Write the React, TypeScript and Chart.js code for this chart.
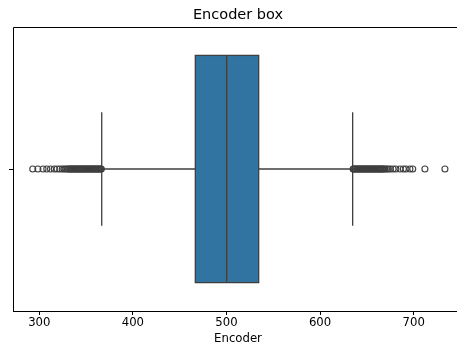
import React, { useEffect, useRef } from "react";
import { Chart, registerables } from "chart.js";

Chart.register(...registerables);

const title = "Encoder box";
const xAxisLabel = "Encoder";
const xTicks = [300, 400, 500, 600, 700];
const xRange = [271.9, 752.7];

const whiskerLow = 366.7;
const q1 = 466.7;
const median = 500.2;
const q3 = 534.4;
const whiskerHigh = 634.8;

const lowOutliers = [
  293, 298.5, 304, 308, 312, 316, 319, 322, 324.5, 326.5, 328.5, 330, 331.5, 332.5, 333.5,
  334.5, 335.5, 336.5, 337.5, 338.5, 339.5, 340.5, 341.5, 342.5, 343.5, 344.5, 345.5,
  346.5, 347.5, 348.5, 349.5, 350.5, 351.5, 352.5, 353.5, 354.5, 355.5, 356.5, 357.5,
  358.5, 359.5, 360.5, 361.5, 362.5, 363.5, 364.5, 365.5, 366.3,
];
const highOutliers = [
  635.3, 636, 637, 638, 639, 640, 641, 642, 643, 644, 645, 646, 647, 648, 649, 650, 651,
  652, 653, 654, 655, 656, 657, 658, 659, 660, 661, 662, 663, 664, 665, 666, 667, 668,
  669.5, 671, 673, 675, 678, 681, 685.4, 689, 691.8, 696, 699, 712, 733.4,
];

const BOX_HALF = 0.4;
const CAP_HALF = 0.2;
const LINE = "#3f3f3f";
const FILL = "#3274a1";
const FONT = "DejaVu Sans";

const boxPlugin = {
  id: "boxDraw",
  beforeDatasetsDraw(chart: any) {
    const { ctx, scales } = chart;
    const xs = scales.x;
    const ys = scales.y;
    const x1 = xs.getPixelForValue(q1);
    const x2 = xs.getPixelForValue(q3);
    const xm = xs.getPixelForValue(median);
    const yt = ys.getPixelForValue(BOX_HALF);
    const yb = ys.getPixelForValue(-BOX_HALF);
    const yc = ys.getPixelForValue(0);
    const yct = ys.getPixelForValue(CAP_HALF);
    const ycb = ys.getPixelForValue(-CAP_HALF);
    const wl = xs.getPixelForValue(whiskerLow);
    const wh = xs.getPixelForValue(whiskerHigh);
    ctx.save();
    ctx.strokeStyle = LINE;
    ctx.lineWidth = 1.3;
    ctx.beginPath();
    ctx.moveTo(wl, yc);
    ctx.lineTo(x1, yc);
    ctx.moveTo(x2, yc);
    ctx.lineTo(wh, yc);
    ctx.moveTo(wl, yct);
    ctx.lineTo(wl, ycb);
    ctx.moveTo(wh, yct);
    ctx.lineTo(wh, ycb);
    ctx.stroke();
    ctx.fillStyle = FILL;
    ctx.fillRect(x1, yt, x2 - x1, yb - yt);
    ctx.strokeRect(x1, yt, x2 - x1, yb - yt);
    ctx.beginPath();
    ctx.moveTo(xm, yt);
    ctx.lineTo(xm, yb);
    ctx.stroke();
    ctx.restore();
  },
  afterDraw(chart: any) {
    const { ctx, chartArea } = chart;
    ctx.save();
    ctx.strokeStyle = "#000";
    ctx.lineWidth = 1;
    ctx.beginPath();
    ctx.moveTo(chartArea.left + 0.5, chartArea.bottom);
    ctx.lineTo(chartArea.left + 0.5, chartArea.top + 0.5);
    ctx.lineTo(chartArea.right, chartArea.top + 0.5);
    ctx.lineTo(chartArea.right, chartArea.bottom);
    ctx.stroke();
    ctx.restore();
  },
};

export default function App() {
  const ref = useRef<HTMLCanvasElement | null>(null);
  useEffect(() => {
    const canvas = ref.current!;
    const outliers = [...lowOutliers, ...highOutliers].map((v) => ({ x: v, y: 0 }));
    const chart = new Chart(canvas, {
      type: "scatter",
      data: {
        datasets: [
          {
            data: outliers,
            pointRadius: 3,
            pointHoverRadius: 3,
            pointBackgroundColor: "rgba(0,0,0,0)",
            pointBorderColor: LINE,
            pointBorderWidth: 1.1,
          },
        ],
      },
      options: {
        animation: false,
        responsive: false,
        maintainAspectRatio: false,
        layout: { autoPadding: false, padding: { left: 0, right: 7, top: 0, bottom: 0 } },
        plugins: {
          legend: { display: false },
          tooltip: { enabled: false },
          title: {
            display: true,
            fullSize: false,
            text: title,
            color: "#000",
            font: { family: FONT, size: 14.5, weight: "normal" },
            padding: { top: 6.8, bottom: 2.8 },
          },
        },
        scales: {
          x: {
            type: "linear",
            min: xRange[0],
            max: xRange[1],
            afterBuildTicks: (s: any) => {
              s.ticks = xTicks.map((v) => ({ value: v }));
            },
            afterFit: (s: any) => {
              s.height = 33;
              s.paddingLeft = 0;
              s.paddingRight = 0;
            },
            grid: { drawOnChartArea: false, drawTicks: true, tickLength: 4, color: "#000" },
            border: { display: true, color: "#000", width: 1 },
            ticks: {
              color: "#000",
              font: { family: FONT, size: 11.7 },
              padding: 1,
              maxRotation: 0,
              callback: (v: any) => String(v),
            },
            title: {
              display: true,
              text: xAxisLabel,
              color: "#000",
              font: { family: FONT, size: 11.7 },
              padding: { top: 0, bottom: -2 },
            },
          },
          y: {
            type: "linear",
            min: -0.5,
            max: 0.5,
            afterBuildTicks: (s: any) => {
              s.ticks = [{ value: 0 }];
            },
            afterFit: (s: any) => {
              s.width = 13;
              s.paddingTop = 0;
              s.paddingBottom = 0;
            },
            grid: { drawOnChartArea: false, drawTicks: true, tickLength: 4, color: "#000" },
            border: { display: false },
            ticks: { callback: () => "", padding: 0 },
          },
        },
      },
      plugins: [boxPlugin],
    } as any);
    return () => chart.destroy();
  }, []);
  return (
    <div
      style={{
        position: "fixed",
        left: 0,
        top: 0,
        width: 457,
        height: 344,
        overflow: "hidden",
        background: "#fff",
      }}
    >
      <canvas ref={ref} width={470} height={344} style={{ width: 470, height: 344, display: "block" }} />
    </div>
  );
}
